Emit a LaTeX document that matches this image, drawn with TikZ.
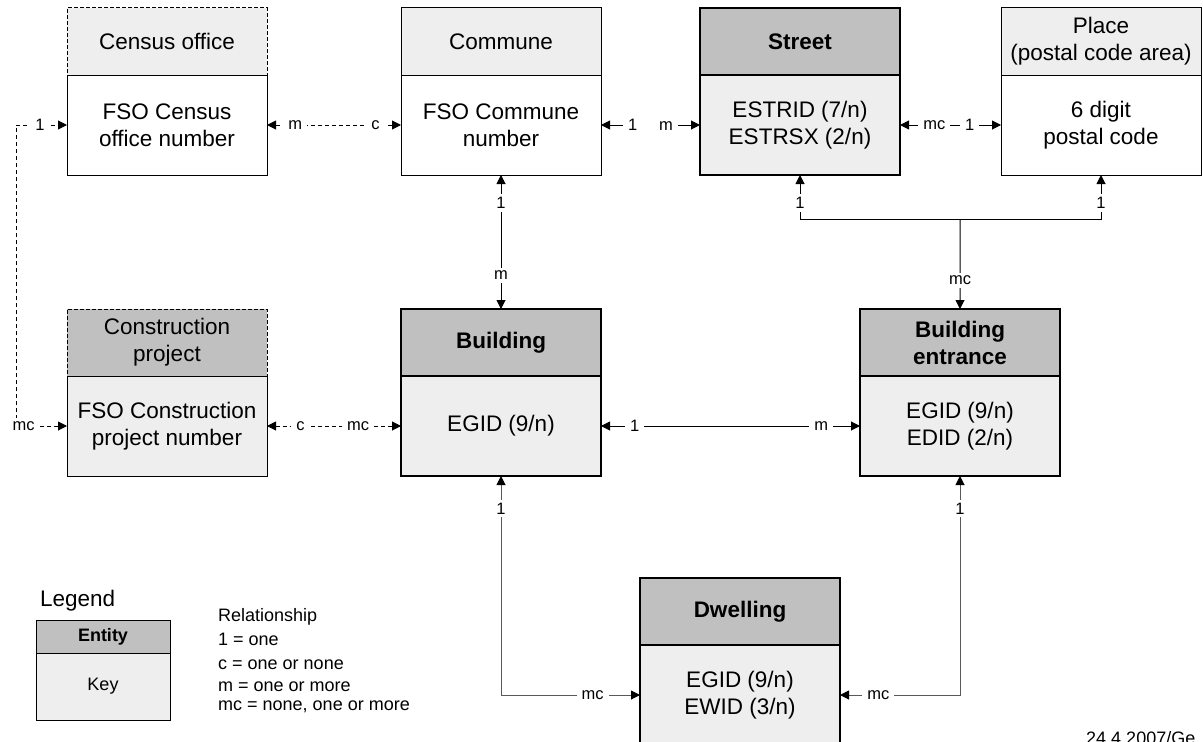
\documentclass[tikz,border=0pt]{standalone}
\usepackage{fontspec}
\setmainfont{Liberation Sans}
\usetikzlibrary{arrows.meta,positioning}

\definecolor{paleshade}{HTML}{EEEEEE}
\definecolor{darkshade}{HTML}{C0C0C0}
\newcommand{\boxfont}{\fontsize{22.5bp}{27bp}\selectfont}
\newcommand{\cardfont}{\fontsize{16.5bp}{18bp}\selectfont}
\newcommand{\legendfont}{\fontsize{18bp}{21bp}\selectfont}

\tikzstyle{box} = [draw, rectangle, outer sep=0pt, inner sep=1bp, align=center, minimum width=200bp, font=\boxfont, line width=1bp]
\tikzstyle{softhead} = [box, minimum height=67bp, fill=paleshade]
\tikzstyle{dashhead} = [softhead, dash pattern=on 4bp off 2bp]
\tikzstyle{projhead} = [dashhead, fill=darkshade]
\tikzstyle{mainhead} = [softhead, fill=darkshade, line width=2.5bp, font=\boxfont\bfseries]
\tikzstyle{softkey} = [box, minimum height=100bp, fill=white]
\tikzstyle{greykey} = [softkey, fill=paleshade]
\tikzstyle{mainkey} = [greykey, line width=2.5bp]
\tikzstyle{legendhead} = [draw, outer sep=0pt, line width=1bp, minimum width=134bp, minimum height=33bp, fill=darkshade, font=\legendfont\bfseries]
\tikzstyle{legendkey} = [legendhead, minimum height=67bp, fill=paleshade, font=\legendfont]
\tikzstyle{card} = [fill=white, inner xsep=5bp, inner ysep=3bp, font=\cardfont]
\tikzstyle{rel} = [draw, line width=1bp, <->]
\tikzstyle{optrel} = [rel, dash pattern=on 4bp off 3bp]
\tikzstyle{dwellrel} = [rel, draw=black!65]
\tikzstyle{branch} = [draw, line width=1bp, ->]

\begin{document}
\begin{tikzpicture}[x=1bp, y=-1bp, >={Triangle[length=9bp,width=9bp,color=black]}]
  \useasboundingbox (0,0) rectangle (1203,742);

  % entities: header on top, key below
  \foreach \name/\x/\y/\head/\key/\hstyle/\kstyle in {
    census/67/8/{Census office}/{FSO Census\\office number}/dashhead/softkey,
    commune/401/8/{Commune}/{FSO Commune\\number}/softhead/softkey,
    street/700/8/{Street}/{ESTRID (7/n)\\ESTRSX (2/n)}/mainhead/mainkey,
    place/1001/8/{Place\\(postal code area)}/{6 digit\\postal code}/softhead/softkey,
    construction/67/309/{Construction\\project}/{FSO Construction\\project number}/projhead/greykey,
    building/401/309/{Building}/{EGID (9/n)}/mainhead/mainkey,
    entrance/860/309/{Building\\entrance}/{EGID (9/n)\\EDID (2/n)}/mainhead/mainkey,
    dwelling/640/578/{Dwelling}/{EGID (9/n)\\EWID (3/n)}/mainhead/mainkey}
  {
    \node[\hstyle, anchor=north west] (\name) at (\x,\y) {\head};
    \node[\kstyle, below=0pt of \name] (\name-id) {\key};
  }

  % straight relationships
  \path
  \foreach \from/\to/\kind/\p/\l/\q/\r in {
    census-id/commune-id/optrel/.21/m/.81/c,
    street-id/place-id/rel/.34/mc/.69/1,
    commune-id/building/rel/.21/1/.75/m,
    construction-id/building-id/optrel/.25/c/.68/mc,
    building-id/entrance-id/rel/.13/1/.85/m}
  {
    (\from) edge[\kind] node[card, pos=\p] {\l} node[card, pos=\q] {\r} (\to)
  };
  \draw[rel] (commune-id) -- node[card] {1\hspace{22bp}m} (street-id);

  % census office -- construction project
  \draw[optrel] (construction-id.west) -- node[card, pos=.85] {mc} ++(-51,0)
    |- node[card, pos=.735] {1} (census-id.west);

  % street and place -- building entrance
  \coordinate (fork) at (960,219);
  \draw[branch] (fork) -| node[card, pos=.68] {1} (street-id);
  \draw[branch] (fork) -| node[card, pos=.68] {1} (place-id);
  \draw[branch] (fork) -- node[card, pos=.68] {mc} (entrance);

  % dwelling
  \draw[dwellrel] (building-id) |- node[card, pos=.074] {1} node[card, pos=.83] {mc} (dwelling-id);
  \draw[dwellrel] (entrance-id) |- node[card, pos=.074] {1} node[card, pos=.84] {mc} (dwelling-id);

  % legend
  \node[font=\boxfont, anchor=base west, inner sep=0pt] (legend) at (40,606) {Legend};
  \node[legendhead, anchor=north west] (entity) at (36,620) {Entity};
  \node[legendkey, below=0pt of entity] (keybox) {Key};
  \foreach \txt/\yy in {Relationship/621, {1 = one}/645, {c = one or none}/669,
    {m = one or more}/691, {mc = none, one or more}/710}
  {
    \node[font=\legendfont, anchor=base west, inner sep=0pt] (line\yy) at (218,\yy) {\txt};
  }
  \node[font=\legendfont, anchor=base west, inner sep=0pt] (stamp) at (1086,744) {24.4.2007/Ge};
\end{tikzpicture}
\end{document}
